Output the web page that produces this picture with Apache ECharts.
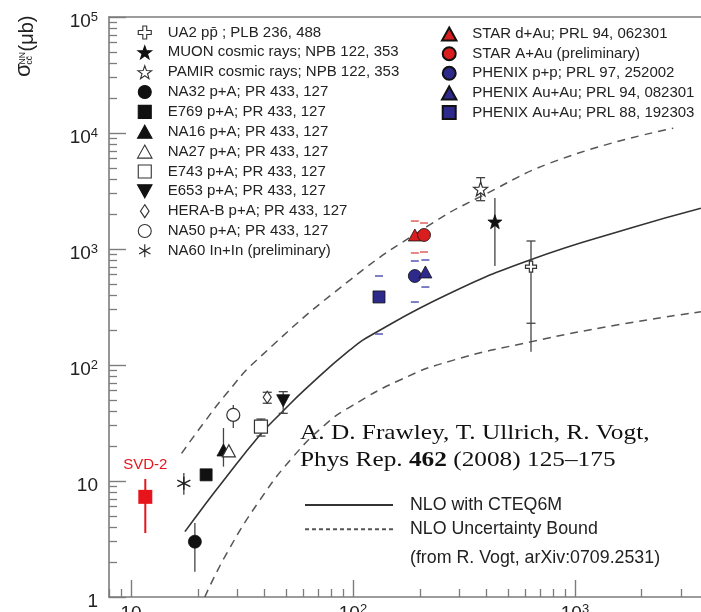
<!DOCTYPE html>
<html><head><meta charset="utf-8">
<script src="https://cdn.jsdelivr.net/npm/echarts@6/dist/echarts.min.js"></script>
<style>html,body{margin:0;padding:0;background:#fff}#c{width:701px;height:612px}</style>
</head><body><div id="c"></div>
<script>
// ---------------- data: x = sqrt(s_NN) [GeV], y = sigma_cc [micro-barn] ----------------
// each row: [x, y, errLow, errHigh]
const UA2 = [[634, 704, 130, 1172]];
const UA2_caps = [[634, 229, 1172]];
const MUON = [[436, 1719, 713, 2754]];
const PAMIR = [[376, 3290, 2609, 4120]];
const NA32 = [[19.4, 3.0, 1.65, 4.34]];
const E769 = [[21.8, 11.3, 10.5, 12.1]];
const NA16 = [[26.1, 18.5, 13.3, 28.6]];
const NA27 = [[27.6, 18.2, null, null]];
const E743 = [[38.5, 29.4, 24.4, 34.2]];
const E653 = [[48.5, 49.2, 38.3, 58.9]];
const HERAB = [[41.1, 52.7, 46.8, 58.2]];
const NA50 = [[28.9, 37.1, 28.6, 45.2]];
const NA60 = [[17.3, 9.55, 7.6, 11.7]];
const STAR_dAu = [[190, 1321, 924, 1742]];
const STAR_AuAu = [[209, 1321, 942, 1675]];
const PHENIX_pp = [[190, 585, 349, 788]];
const PHENIX_AuAu94 = [[212, 634, 470, 804]];
const PHENIX_AuAu88 = [[131, 386, 185, 585]];
const SVD2 = [[11.6, 7.3, 3.56, 10.4]];

// NLO curves
const nloCentral = [[17.5,3.66],[21.2,6.0],[25.2,9.24],[38.1,24.9],[47.7,38.95],[61.9,63.4],[96.9,134.7],[123.4,185],[273.5,415],[627,804],[1769,1508],[3695,2244]];
const nloUpper = [[16.9,17.3],[21.2,31.4],[27.0,57.0],[36.8,110],[96.9,540],[215,1556],[373,2810],[885,6050],[2773,10978]];
const nloLower = [[21.5,1.0],[27.0,2.38],[38.1,6.86],[53.8,16.2],[76.1,31.4],[96.9,43.4],[163,74.3],[274,108],[638,159],[1541,221],[3695,288]];

// axis ranges and tick labels (decades)
const X_RANGE = [7.96, 3698];
const Y_RANGE = [1, 1e5];
const xMajorExp = [1, 2, 3];
const yMajorExp = [0, 1, 2, 3, 4, 5];

// legend texts
const LEG = {
  UA2: 'UA2 pp\u0304 ; PLB 236, 488',
  MUON: 'MUON cosmic rays; NPB 122, 353',
  PAMIR: 'PAMIR cosmic rays; NPB 122, 353',
  NA32: 'NA32 p+A; PR 433, 127',
  E769: 'E769 p+A; PR 433, 127',
  NA16: 'NA16 p+A; PR 433, 127',
  NA27: 'NA27 p+A; PR 433, 127',
  E743: 'E743 p+A; PR 433, 127',
  E653: 'E653 p+A; PR 433, 127',
  HERAB: 'HERA-B p+A; PR 433, 127',
  NA50: 'NA50 p+A; PR 433, 127',
  NA60: 'NA60 In+In (preliminary)',
  STAR_dAu: 'STAR d+Au; PRL 94, 062301',
  STAR_AuAu: 'STAR A+Au (preliminary)',
  PHENIX_pp: 'PHENIX p+p; PRL 97, 252002',
  PHENIX_AuAu94: 'PHENIX Au+Au; PRL 94, 082301',
  PHENIX_AuAu88: 'PHENIX Au+Au; PRL 88, 192303'
};
const NLO_C = 'NLO with CTEQ6M';
const NLO_U = 'NLO Uncertainty Bound';

// ---------------- helpers ----------------
const L = Math.log10;
const pts = rows => rows.map(r => [L(r[0]), L(r[1])]);
const errs = rows => rows.filter(r => r[2] != null).map(r => [L(r[0]), L(r[2]), L(r[3])]);
const curve = rows => rows.map(r => [L(r[0]), L(r[1])]);
function minorTicks(lo, hi) {
  const out = [];
  for (let n = Math.floor(lo); n <= Math.ceil(hi); n++)
    for (let k = 2; k <= 9; k++) { const v = n + L(k); if (v > lo && v < hi) out.push(v); }
  return out;
}
const xMin = L(X_RANGE[0]), xMax = L(X_RANGE[1]);
const yMin = L(Y_RANGE[0]), yMax = L(Y_RANGE[1]);

const AX = '#7c7c7c';
const TXT = '#222';
const SANS = 'Liberation Sans, Arial, Helvetica, sans-serif';
const SERIF = 'Liberation Serif, Times New Roman, serif';

const STAR = 'path://M10,0 L12.35,6.76 L19.51,6.91 L13.80,11.24 L15.88,18.09 L10,14 L4.12,18.09 L6.20,11.24 L0.49,6.91 L7.65,6.76 Z';
const CROSS = 'path://M3.5,0 H6.5 V3.5 H10 V6.5 H6.5 V10 H3.5 V6.5 H0 V3.5 H3.5 Z';
const ASTER = 'path://M5,0 L5,10 M0.67,2.5 L9.33,7.5 M0.67,7.5 L9.33,2.5';
const DTRI = 'path://M0,0 L10,0 L5,9 Z';
const UTRI = 'path://M5,0 L10,9 L0,9 Z';
const SQR = 'path://M0,0 L10,0 L10,10 L0,10 Z';
const DIAM = 'path://M4,0 L8,6 L4,12 L0,6 Z';

const RED = '#d81e1e', BLUE = '#2e2a8c';
const filled = c => ({ color: c, borderColor: '#111', borderWidth: 0.8, opacity: 1 });
const open = () => ({ color: '#fff', borderColor: '#333', borderWidth: 1.2, opacity: 1 });

function scatter(key, rows, symbol, size, style, z) {
  return { type: 'scatter', name: LEG[key] || key, data: pts(rows), symbol, symbolSize: size,
    itemStyle: style, z: z || 5, xAxisIndex: 0, yAxisIndex: 0 };
}
function errSeries(id, data, opt) {
  return {
    type: 'custom', name: id, data, xAxisIndex: 0, yAxisIndex: 0, z: 3, silent: true,
    dimensions: ['x', 'lo', 'hi'], encode: { x: 0, y: [1, 2] },
    renderItem: (params, api) => {
      const x = api.value(0);
      const a = api.coord([x, api.value(1)]), b = api.coord([x, api.value(2)]);
      const ch = [];
      if (opt.line) ch.push({ type: 'line', shape: { x1: a[0], y1: a[1], x2: b[0], y2: b[1] },
        style: { stroke: opt.color, lineWidth: opt.width } });
      if (opt.cap) for (const p of [a, b]) ch.push({ type: 'line',
        shape: { x1: p[0] - opt.cap / 2, y1: p[1], x2: p[0] + opt.cap / 2, y2: p[1] },
        style: { stroke: opt.color, lineWidth: opt.capWidth || opt.width } });
      return { type: 'group', children: ch };
    }
  };
}

function powLabel(v) {
  const n = Math.round(v);
  if (n === 0) return '{b|1}';
  if (n === 1) return '{b|10}';
  return '{b|10}{s|' + n + '}';
}
const labelRich = {
  b: { fontSize: 19, fontFamily: SANS, color: TXT, lineHeight: 22 },
  s: { fontSize: 13, fontFamily: SANS, color: TXT, verticalAlign: 'top', lineHeight: 13 }
};

const xMinor = minorTicks(xMin, xMax);
const yMinor = minorTicks(yMin, yMax);

const blackErr = { line: true, color: '#444', width: 1.3 };
const blackCapErr = { line: true, cap: 9, color: '#444', width: 1.3 };
const lineBase = { type: 'line', smooth: 0.5, symbol: 'none', showSymbol: false, z: 2,
  xAxisIndex: 0, yAxisIndex: 0, itemStyle: { color: 'rgba(0,0,0,0)' } };

const series = [
  // NLO curves
  Object.assign({}, lineBase, { name: NLO_C, data: curve(nloCentral), lineStyle: { color: '#333', width: 1.6 } }),
  Object.assign({}, lineBase, { name: NLO_U, data: curve(nloUpper), lineStyle: { color: '#555', width: 1.5, type: [8, 6] } }),
  Object.assign({}, lineBase, { name: NLO_U, data: curve(nloLower), lineStyle: { color: '#555', width: 1.5, type: [8, 6] } }),
  // error bars
  errSeries('e-bars', [].concat(errs(UA2), errs(MUON), errs(NA32), errs(E769), errs(NA16), errs(NA50), errs(NA60)), blackErr),
  errSeries('e-capped', [].concat(errs(PAMIR), errs(E743), errs(HERAB), errs(E653)), blackCapErr),
  errSeries('e-ua2caps', UA2_caps.map(r => [L(r[0]), L(r[1]), L(r[2])]), { cap: 9, color: '#444', width: 1.3 }),
  errSeries('e-red', [].concat(errs(STAR_dAu), errs(STAR_AuAu)), { cap: 8, color: '#e06060', width: 1.5 }),
  errSeries('e-blue', [].concat(errs(PHENIX_pp), errs(PHENIX_AuAu94), errs(PHENIX_AuAu88)), { cap: 8, color: '#5555b5', width: 1.5 }),
  errSeries('e-svd', errs(SVD2), { line: true, color: '#e8141c', width: 2 }),
  // markers
  scatter('UA2', UA2, CROSS, 11, open()),
  scatter('MUON', MUON, STAR, 14, filled('#111')),
  scatter('PAMIR', PAMIR, STAR, 14, open()),
  scatter('NA32', NA32, 'circle', 13, filled('#111')),
  scatter('E769', E769, SQR, 12, filled('#111')),
  scatter('NA16', NA16, UTRI, [13, 12], filled('#111')),
  scatter('NA27', NA27, UTRI, [13, 12], open()),
  scatter('E743', E743, SQR, 13, open()),
  scatter('E653', E653, DTRI, [13, 12], filled('#111')),
  scatter('HERAB', HERAB, DIAM, [8, 12], open()),
  scatter('NA50', NA50, 'circle', 13, open()),
  scatter('NA60', NA60, ASTER, 13, { color: 'transparent', borderColor: '#222', borderWidth: 1.4, opacity: 1 }),
  scatter('STAR_dAu', STAR_dAu, UTRI, [13, 12], filled(RED)),
  scatter('STAR_AuAu', STAR_AuAu, 'circle', 13, filled(RED), 6),
  scatter('PHENIX_pp', PHENIX_pp, 'circle', 13, filled(BLUE)),
  scatter('PHENIX_AuAu94', PHENIX_AuAu94, UTRI, [13, 12], filled(BLUE), 6),
  scatter('PHENIX_AuAu88', PHENIX_AuAu88, SQR, 12, filled(BLUE)),
  Object.assign(scatter('SVD-2', SVD2, SQR, 14, { color: '#e8141c', opacity: 1 }), {
    label: { show: true, position: 'top', distance: 17, formatter: 'SVD-2', color: '#e8141c', fontSize: 15, fontFamily: SANS }
  })
];

const legendText = { fontSize: 15, color: TXT, fontFamily: SANS };
const option = {
  animation: false,
  backgroundColor: '#fff',
  grid: { left: 109, right: 0, top: 17, bottom: 15, containLabel: false, outerBoundsMode: 'none' },
  xAxis: [
    { type: 'value', min: xMin, max: xMax, position: 'bottom',
      axisLine: { show: true, onZero: false, lineStyle: { color: AX, width: 1.6 } },
      axisTick: { show: true, inside: true, length: 17, customValues: xMajorExp, lineStyle: { color: AX, width: 1.4 } },
      axisLabel: { show: true, customValues: xMajorExp, formatter: powLabel, rich: labelRich, margin: 6 },
      splitLine: { show: false } },
    { type: 'value', min: xMin, max: xMax, position: 'bottom',
      axisLine: { show: false, onZero: false },
      axisTick: { show: true, inside: true, length: 8, customValues: xMinor, lineStyle: { color: AX, width: 1.3 } },
      axisLabel: { show: false }, splitLine: { show: false } },
    { type: 'value', min: xMin, max: xMax, position: 'top',
      axisLine: { show: true, onZero: false, lineStyle: { color: AX, width: 1.6 } },
      axisTick: { show: false }, axisLabel: { show: false }, splitLine: { show: false } }
  ],
  yAxis: [
    { type: 'value', min: yMin, max: yMax, position: 'left',
      axisLine: { show: true, onZero: false, lineStyle: { color: AX, width: 1.6 } },
      axisTick: { show: true, inside: true, length: 17, customValues: yMajorExp, lineStyle: { color: AX, width: 1.4 } },
      axisLabel: { show: true, customValues: yMajorExp, formatter: powLabel, rich: labelRich, margin: 11, padding: [9, 0, 0, 0] },
      splitLine: { show: false } },
    { type: 'value', min: yMin, max: yMax, position: 'left',
      axisLine: { show: false, onZero: false },
      axisTick: { show: true, inside: true, length: 8, customValues: yMinor, lineStyle: { color: AX, width: 1.3 } },
      axisLabel: { show: false }, splitLine: { show: false } }
  ],
  legend: [
    { orient: 'vertical', left: 132, top: 20, itemWidth: 36, itemHeight: 13, itemGap: 4.85,
      selectedMode: false, textStyle: legendText, itemStyle: { borderWidth: 1.1 },
      data: ['UA2','MUON','PAMIR','NA32','E769','NA16','NA27','E743','E653','HERAB','NA50','NA60'].map(k => LEG[k]) },
    { orient: 'vertical', left: 436, top: 21.6, itemWidth: 36, itemHeight: 13, itemGap: 4.6,
      selectedMode: false, textStyle: legendText,
      data: ['STAR_dAu','STAR_AuAu','PHENIX_pp','PHENIX_AuAu94','PHENIX_AuAu88'].map(k => LEG[k]) },
    { orient: 'vertical', left: 299, top: 491, itemWidth: 88, itemHeight: 12, itemGap: 6.2,
      selectedMode: false,
      itemStyle: { color: 'rgba(0,0,0,0)', borderColor: 'rgba(0,0,0,0)', borderWidth: 0 },
      textStyle: { fontSize: 17.8, color: TXT, fontFamily: SANS, rich: { g: { width: 12 } } },
      formatter: n => '{g|}' + n,
      data: [ { name: NLO_C }, { name: NLO_U, lineStyle: { type: [4, 3] } } ] }
  ],
  graphic: [
    { type: 'text', left: 410, top: 549, style: { text: '(from R. Vogt, arXiv:0709.2531)', fontSize: 17.8, fontFamily: SANS, fill: TXT } },
    { type: 'text', x: 300, y: 433, scaleX: 1.15, style: { text: 'A. D. Frawley, T. Ullrich, R. Vogt,', fontSize: 22, fontFamily: SERIF, fill: '#111', verticalAlign: 'middle' } },
    { type: 'text', x: 300, y: 460, scaleX: 1.15, style: { text: 'Phys Rep. {b|462} (2008) 125–175', fontSize: 22, fontFamily: SERIF, fill: '#111', verticalAlign: 'middle',
      rich: { b: { fontWeight: 'bold', fontSize: 22, fontFamily: SERIF, fill: '#111' } } } },
    { type: 'group', x: 26, y: 77, rotation: Math.PI / 2, children: [
      { type: 'text', x: 0, y: -2, style: { text: 'σ', fontSize: 22, fontFamily: SANS, fill: TXT, verticalAlign: 'middle' } },
      { type: 'text', x: 12.5, y: -3, style: { text: 'NN', fontSize: 8.5, fontFamily: SANS, fill: TXT, verticalAlign: 'middle' } },
      { type: 'text', x: 12.5, y: 3.5, style: { text: 'cc\u0304', fontSize: 8.5, fontFamily: SANS, fill: TXT, verticalAlign: 'middle' } },
      { type: 'text', x: 25.5, y: 1, style: { text: '(μb)', fontSize: 20, fontFamily: SANS, fill: TXT, verticalAlign: 'middle' } }
    ] }
  ],
  series
};
echarts.init(document.getElementById('c'), null, { renderer: 'canvas' }).setOption(option);
</script>
</body></html>
